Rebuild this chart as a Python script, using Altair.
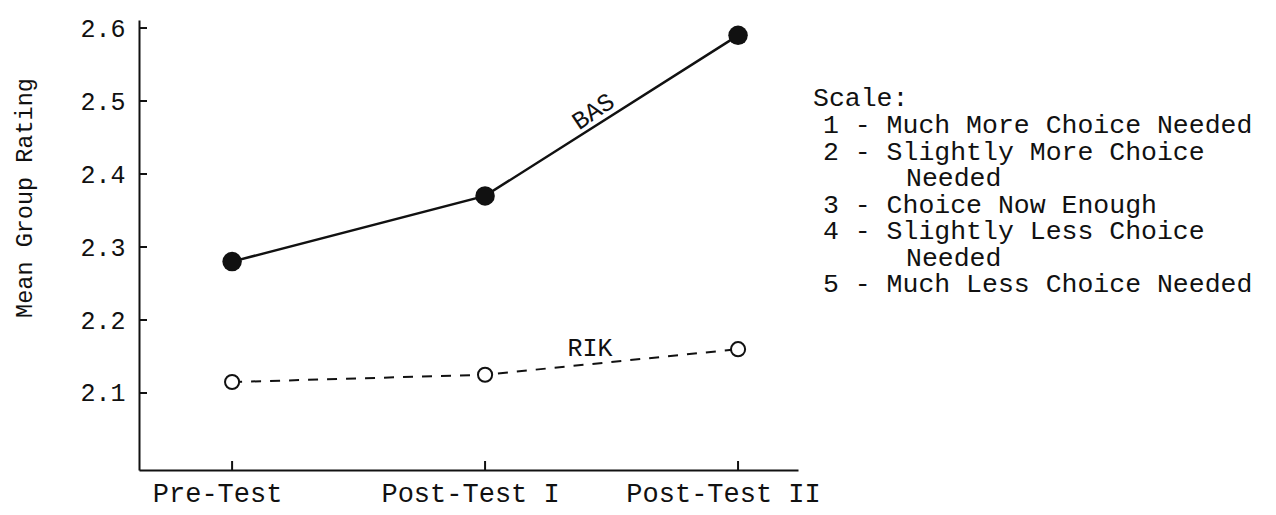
import altair as alt
import pandas as pd

categories = ["Pre-Test", "Post-Test I", "Post-Test II"]
bas_values = [2.28, 2.37, 2.59]
rik_values = [2.115, 2.125, 2.16]
y_ticks = [2.1, 2.2, 2.3, 2.4, 2.5, 2.6]
y_title = "Mean Group Rating"
scale_title = "Scale:"
scale_lines = [
    "1 - Much More Choice Needed",
    "2 - Slightly More Choice",
    "Needed",
    "3 - Choice Now Enough",
    "4 - Slightly Less Choice",
    "Needed",
    "5 - Much Less Choice Needed",
]
scale_indent = [False, False, True, False, False, True, False]

FONT = "Liberation Mono"
INK = "#111111"

bas = pd.DataFrame({"pos": list(range(len(categories))), "cat": categories, "value": bas_values})
rik = pd.DataFrame({"pos": list(range(len(categories))), "cat": categories, "value": rik_values})
yt = pd.DataFrame({"t": y_ticks})
xt = pd.DataFrame({"pos": list(range(len(categories)))})
one = pd.DataFrame({"k": [0]})

xscale = alt.Scale(domain=[-0.368, 2.237], nice=False, zero=False)
yscale = alt.Scale(domain=[1.9945, 2.611], nice=False, zero=False)

label_expr = "[" + ",".join("'" + c + "'" for c in categories) + "][datum.value]"

x_axis = alt.Axis(
    values=list(range(len(categories))), labelExpr=label_expr, ticks=False, grid=False,
    labelFont=FONT, labelFontSize=27, labelColor=INK, labelPadding=10, labelOffset=-15,
    labelLimit=0, domainColor=INK, domainWidth=2, title=None,
)
y_axis = alt.Axis(
    values=y_ticks, format=".1f", ticks=False, grid=False,
    labelFont=FONT, labelFontSize=25, labelColor=INK, labelPadding=14,
    domainColor=INK, domainWidth=2, title=None,
)


def X(field):
    return alt.X(field, type="quantitative", scale=xscale, axis=x_axis)


def Y(field):
    return alt.Y(field, type="quantitative", scale=yscale, axis=y_axis)


bas_line = alt.Chart(bas).mark_line(color=INK, strokeWidth=2.5).encode(x=X("pos"), y=Y("value"))
bas_pts = alt.Chart(bas).mark_point(shape="circle", filled=True, color=INK, size=380, opacity=1).encode(
    x=X("pos"), y=Y("value"))
rik_line = alt.Chart(rik).mark_line(color=INK, strokeWidth=2, strokeDash=[10, 9]).encode(
    x=X("pos"), y=Y("value"))
rik_pts = alt.Chart(rik).mark_point(shape="circle", filled=True, fill="white", stroke=INK,
                                    strokeWidth=2, size=200, opacity=1).encode(x=X("pos"), y=Y("value"))

ytick_marks = alt.Chart(yt).mark_rule(color=INK, strokeWidth=2).encode(
    y=Y("t"), x=alt.value(0), x2=alt.value(8))
xtick_marks = alt.Chart(xt).mark_rule(color=INK, strokeWidth=2).encode(
    x=X("pos"), y=alt.value(450), y2=alt.value(441))

bas_label = alt.Chart(one).mark_text(font=FONT, fontSize=25, angle=326, color=INK).encode(
    x=alt.XDatum(1.427, type="quantitative", scale=xscale, axis=x_axis),
    y=alt.YDatum(2.486, type="quantitative", scale=yscale, axis=y_axis),
    text=alt.value("BAS"),
)
rik_label = alt.Chart(one).mark_text(font=FONT, fontSize=25, color=INK).encode(
    x=alt.XDatum(1.415, type="quantitative", scale=xscale, axis=x_axis),
    y=alt.YDatum(2.162, type="quantitative", scale=yscale, axis=y_axis),
    text=alt.value("RIK"),
)

ytitle = alt.Chart(one).mark_text(font=FONT, fontSize=23.5, angle=270, color=INK).encode(
    x=alt.value(-114), y=alt.value(178), text=alt.value(y_title))
legend_layers = [
    alt.Chart(one).mark_text(font=FONT, fontSize=26.5, align="left", baseline="middle", color=INK).encode(
        x=alt.value(674), y=alt.value(78), text=alt.value(scale_title))
]
for i, (line, ind) in enumerate(zip(scale_lines, scale_indent)):
    legend_layers.append(
        alt.Chart(one).mark_text(font=FONT, fontSize=26.5, align="left", baseline="middle", color=INK).encode(
            x=alt.value(767 if ind else 684), y=alt.value(105 + 26.5 * i), text=alt.value(line))
    )

chart = alt.layer(
    bas_line, rik_line, ytick_marks, xtick_marks, bas_pts, rik_pts,
    bas_label, rik_label, ytitle, *legend_layers,
).properties(
    width=659, height=450,
    autosize=alt.AutoSizeParams(type="none"),
    padding={"left": 131, "top": 12, "right": 462, "bottom": 39},
    background="white",
).configure_view(stroke=None)

chart.save("out.html", embed_options={"renderer": "svg", "actions": False})
